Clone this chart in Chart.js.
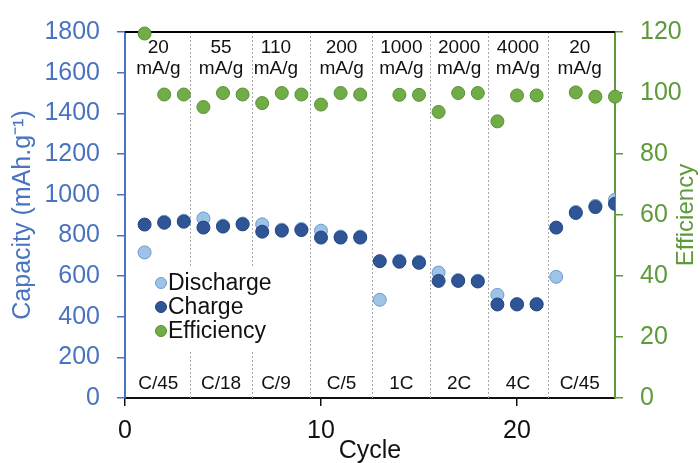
<!DOCTYPE html>
<html><head><meta charset="utf-8">
<script src="https://cdn.jsdelivr.net/npm/chart.js@4/dist/chart.umd.min.js"></script>
<style>html,body{margin:0;padding:0;background:#fff;}canvas{display:block;}</style>
</head><body>
<canvas id="c" width="700" height="463"></canvas>
<script>
// ---- data ----
const cycles = [1,2,3,4,5,6,7,8,9,10,11,12,13,14,15,16,17,18,19,20,21,22,23,24,25];
const discharge = [716,867,872,883,848,858,854,828,831,823,794,794,483,675,670,617,580,577,507,463,463,596,915,945,975];
const charge = [853,862,867,838,843,854,818,823,826,789,789,789,673,670,665,576,576,573,460,460,460,838,910,939,955];
const efficiency = [119.5,99.5,99.5,95.4,100,99.5,96.7,100,99.5,96.2,100,99.5,null,99.4,99.4,93.8,100,100,90.7,99.2,99.2,null,100.2,98.8,98.8];
const capacityTicks = [0,200,400,600,800,1000,1200,1400,1600,1800];
const efficiencyTicks = [0,20,40,60,80,100,120];
const cycleTicks = [0,10,20];
const dividers = [3.3,6.5,9.45,12.6,15.55,18.5,21.6];
const currentLabels = ["20","55","110","200","1000","2000","4000","20"];
const currentUnit = "mA/g";
const rateLabels = ["C/45","C/18","C/9","C/5","1C","2C","4C","C/45"];
const labelCycles = [1.7,4.9,7.7,11.05,14.1,17.05,20.05,23.2];
const seriesNames = ["Discharge","Charge","Efficiency"];

const BLUE = '#4A74C0', GREEN = '#5E9A3A';
const FONT = "'Liberation Sans', Arial, Helvetica, sans-serif";
Chart.defaults.font.family = FONT;

const pts = arr => cycles.map((c,i) => ({x:c, y:arr[i]}));
const plain = v => String(v);

const overlay = {
  id:'overlay',
  beforeDatasetsDraw(chart){
    const {ctx, chartArea:a, scales:{x}} = chart;
    ctx.save();
    ctx.strokeStyle = '#a8a8a8'; ctx.lineWidth = 1; ctx.setLineDash([2,2]);
    dividers.forEach(d => {
      const px = Math.round(x.getPixelForValue(d)) + 0.5;
      ctx.beginPath(); ctx.moveTo(px, a.top); ctx.lineTo(px, a.bottom); ctx.stroke();
    });
    ctx.setLineDash([]);
    // top frame line
    ctx.strokeStyle = '#000'; ctx.lineWidth = 2;
    ctx.beginPath(); ctx.moveTo(a.left, a.top); ctx.lineTo(a.right, a.top); ctx.stroke();
    // annotation texts
    ctx.fillStyle = '#111'; ctx.textAlign = 'center'; ctx.textBaseline = 'middle';
    ctx.font = "19px " + FONT;
    labelCycles.forEach((c,i) => {
      const px = x.getPixelForValue(c);
      ctx.fillText(currentLabels[i], px, a.top + 16);
      ctx.fillText(currentUnit, px, a.top + 37);
      ctx.fillText(rateLabels[i], px, a.bottom - 14);
    });
    // legend (inside plot)
    ctx.fillStyle = '#fff';
    ctx.fillRect(150, a.top + 234, 140, 86);
    const cols = [['#9DC3E6','#6C9BD0'],['#2F5597','#24467F'],['#70AD47','#5B8F39']];
    ctx.font = "23px " + FONT; ctx.textAlign = 'left';
    seriesNames.forEach((n,i) => {
      const yy = a.top + 251 + i*24;
      ctx.beginPath(); ctx.arc(161, yy, 5.5, 0, Math.PI*2);
      ctx.fillStyle = cols[i][0]; ctx.fill();
      ctx.strokeStyle = cols[i][1]; ctx.lineWidth = 1; ctx.stroke();
      ctx.fillStyle = '#111'; ctx.fillText(n, 168, yy + 1);
    });
    ctx.restore();
  },
  afterDraw(chart){
    const {ctx, chartArea:a} = chart;
    ctx.save();
    ctx.translate(chart.width - 14, (a.top + a.bottom)/2);
    ctx.rotate(-Math.PI/2);
    ctx.fillStyle = GREEN; ctx.font = "24px " + FONT;
    ctx.textAlign = 'center'; ctx.textBaseline = 'middle';
    ctx.fillText('Efficiency', 0, 0);
    ctx.restore();
  }
};

new Chart(document.getElementById('c'), {
  type:'scatter',
  data:{ datasets:[
    {label:seriesNames[0], data:pts(discharge), yAxisID:'y', order:1,
     backgroundColor:'#9DC3E6', borderColor:'#6C9BD0', borderWidth:1, pointRadius:6.5, pointHoverRadius:6.5},
    {label:seriesNames[1], data:pts(charge), yAxisID:'y', order:0,
     backgroundColor:'#2F5597', borderColor:'#24467F', borderWidth:1, pointRadius:6.5, pointHoverRadius:6.5},
    {label:seriesNames[2], data:pts(efficiency), yAxisID:'y2', order:2, clip:false,
     backgroundColor:'#70AD47', borderColor:'#5B8F39', borderWidth:1, pointRadius:6.5, pointHoverRadius:6.5}
  ]},
  options:{
    responsive:false, animation:false, devicePixelRatio:1,
    layout:{padding:{top:25,left:0,right:0,bottom:0}},
    plugins:{legend:{display:false}, tooltip:{enabled:false}},
    scales:{
      x:{type:'linear', position:'bottom', min:0, max:25,
         afterBuildTicks: s => { s.ticks = cycleTicks.map(v => ({value:v})); },
         afterFit: s => { s.height = 65; },
         ticks:{color:'#111', font:{size:25}, padding:10, maxRotation:0, callback:plain},
         grid:{drawOnChartArea:false, drawTicks:true, tickLength:8, color:'#111', lineWidth:1.5},
         border:{display:true, color:'#111', width:2},
         title:{display:true, text:'Cycle', color:'#111', font:{size:25}, padding:{top:0,bottom:-3}}},
      y:{type:'linear', position:'left', min:0, max:1800,
         afterBuildTicks: s => { s.ticks = capacityTicks.map(v => ({value:v})); },
         afterFit: s => { s.width = 125; },
         ticks:{color:BLUE, font:{size:25}, padding:17, callback:plain},
         grid:{drawOnChartArea:false, drawTicks:true, tickLength:8, color:BLUE, lineWidth:1.5},
         border:{display:true, color:BLUE, width:2},
         title:{display:true, text:'Capacity (mAh.g\u207B\u00B9)', color:BLUE, font:{size:25}, padding:{top:8,bottom:0}}},
      y2:{type:'linear', position:'right', min:0, max:120,
         afterBuildTicks: s => { s.ticks = efficiencyTicks.map(v => ({value:v})); },
         afterFit: s => { s.width = 85; },
         ticks:{color:GREEN, font:{size:25}, padding:17, callback:plain},
         grid:{drawOnChartArea:false, drawTicks:true, tickLength:8, color:GREEN, lineWidth:1.5},
         border:{display:true, color:GREEN, width:2},
         title:{display:false}}
    }
  },
  plugins:[overlay]
});
</script>
</body></html>
